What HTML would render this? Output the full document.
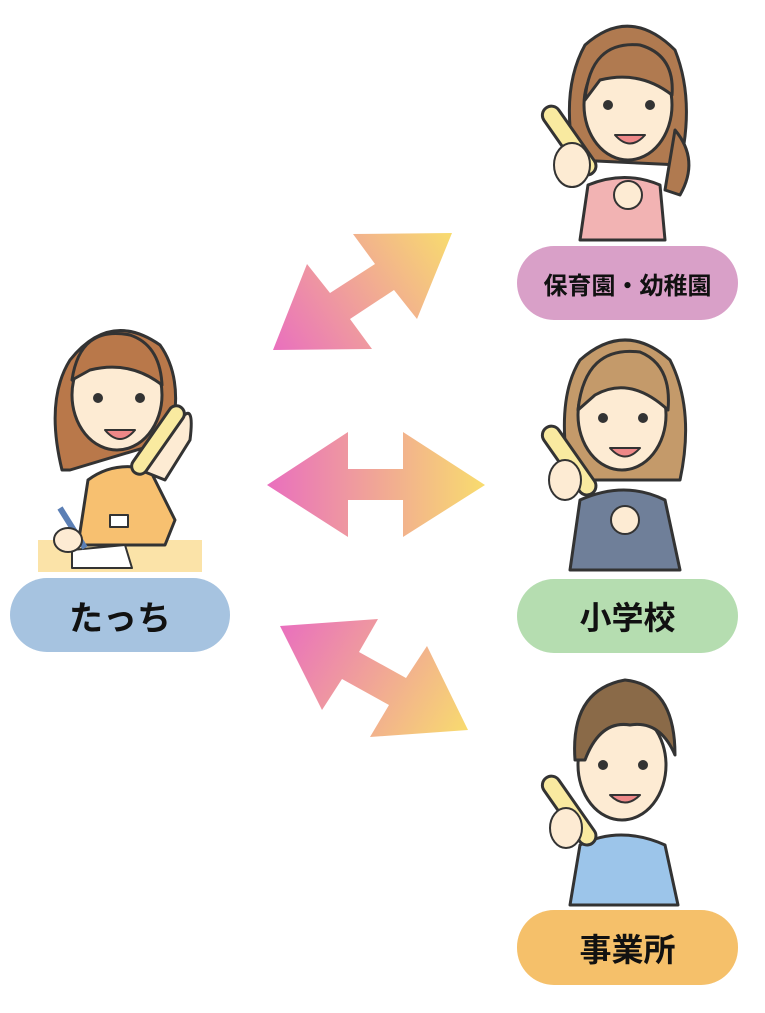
<!DOCTYPE html>
<html><head><meta charset="utf-8"><style>
html,body{margin:0;padding:0;background:#fff;}
body{width:765px;height:1013px;position:relative;overflow:hidden;font-family:"Liberation Sans","Noto Sans CJK JP",sans-serif;}
.pill{position:absolute;border-radius:37px;display:flex;align-items:center;justify-content:center;font-weight:bold;color:#111;}
</style></head><body>
<svg width="765" height="1013" style="position:absolute;left:0;top:0">
<defs>
<linearGradient id="g1" gradientUnits="userSpaceOnUse" x1="273" y1="350" x2="452" y2="233"><stop offset="0" stop-color="#e96fbe"/><stop offset="1" stop-color="#f8dc6e"/></linearGradient>
<linearGradient id="g2" gradientUnits="userSpaceOnUse" x1="267" y1="0" x2="485" y2="0"><stop offset="0" stop-color="#e96fbe"/><stop offset="1" stop-color="#f8dc6e"/></linearGradient>
<linearGradient id="g3" gradientUnits="userSpaceOnUse" x1="280" y1="626" x2="468" y2="735"><stop offset="0" stop-color="#e96fbe"/><stop offset="1" stop-color="#f8dc6e"/></linearGradient>
</defs>
<polygon fill="url(#g1)" points="452,233 417,319 394,290 350,319 372,349 273,350 307,264 330,293 375,264 353,234"/>
<polygon fill="url(#g2)" points="267,485 348,432 348,469 403,469 403,432 485,485 403,537 403,500 348,500 348,537"/>
<polygon fill="url(#g3)" points="280,626 378,619 359,652 406,678 427,646 468,730 370,737 389,705 342,679 322,710"/>

<g stroke="#333" stroke-width="3" stroke-linejoin="round">
<!-- left woman -->
<path d="M62,470 Q45,400 70,360 Q110,310 160,345 Q185,380 170,440 L70,470Z" fill="#b9784a"/>
<rect x="38" y="540" width="164" height="32" fill="#fbe3a8" stroke="none"/>
<path d="M78,545 L88,480 Q115,460 150,470 L175,520 L165,545Z" fill="#f7c070"/>
<ellipse cx="117" cy="395" rx="45" ry="55" fill="#fdebd3"/>
<path d="M72,380 Q80,325 130,335 Q160,345 162,385 Q130,360 90,370Z" fill="#b9784a"/>
<path d="M140,470 L180,420 Q195,400 190,440 L165,480Z" fill="#fdebd3"/>
<rect x="150" y="400" width="16" height="80" rx="8" transform="rotate(35 158 440)" fill="#f9eaa0"/>
<rect x="110" y="515" width="18" height="12" fill="#fff" stroke-width="2"/>
<polygon points="72,550 125,545 132,568 72,568" fill="#fff" stroke-width="2"/>
<line x1="60" y1="508" x2="85" y2="548" stroke="#5b7fb5" stroke-width="6"/>
<ellipse cx="68" cy="540" rx="14" ry="12" fill="#fdebd3" stroke-width="2"/>
<circle cx="98" cy="398" r="3.5" fill="#333"/><circle cx="140" cy="398" r="3.5" fill="#333"/>
<path d="M105,430 Q120,448 135,430Z" fill="#e88" stroke-width="2"/>

<!-- top right woman -->
<path d="M575,160 Q560,90 585,45 Q630,5 675,50 Q695,100 680,165Z" fill="#b07a50"/>
<path d="M675,130 Q700,160 680,195 L665,190Z" fill="#b07a50"/>
<path d="M580,240 L588,185 Q625,170 660,185 L665,240Z" fill="#f2b3b3"/>
<ellipse cx="628" cy="105" rx="44" ry="55" fill="#fdebd3"/>
<path d="M585,100 Q590,40 640,45 Q675,55 672,95 Q640,70 600,80Z" fill="#b07a50"/>
<rect x="560" y="100" width="18" height="80" rx="9" transform="rotate(-35 570 140)" fill="#f9eaa0"/>
<ellipse cx="572" cy="165" rx="18" ry="22" fill="#fdebd3" stroke-width="2"/>
<ellipse cx="628" cy="195" rx="14" ry="14" fill="#fdebd3" stroke-width="2"/>
<circle cx="608" cy="105" r="3.5" fill="#333"/><circle cx="650" cy="105" r="3.5" fill="#333"/>
<path d="M615,135 Q630,152 645,135Z" fill="#e88" stroke-width="2"/>

<!-- middle right woman -->
<path d="M570,480 Q555,400 580,360 Q625,320 670,360 Q695,410 680,480Z" fill="#c49a6a"/>
<path d="M570,570 L580,500 Q625,480 665,500 L680,570Z" fill="#6f7f99"/>
<ellipse cx="622" cy="415" rx="44" ry="55" fill="#fdebd3"/>
<path d="M578,410 Q585,345 640,352 Q672,365 668,410 Q630,375 595,395Z" fill="#c49a6a"/>
<rect x="560" y="420" width="18" height="80" rx="9" transform="rotate(-35 570 460)" fill="#f9eaa0"/>
<ellipse cx="565" cy="480" rx="16" ry="20" fill="#fdebd3" stroke-width="2"/>
<ellipse cx="625" cy="520" rx="14" ry="14" fill="#fdebd3" stroke-width="2"/>
<circle cx="603" cy="418" r="3.5" fill="#333"/><circle cx="643" cy="418" r="3.5" fill="#333"/>
<path d="M610,448 Q625,465 640,448Z" fill="#e88" stroke-width="2"/>

<!-- bottom right man -->
<path d="M570,905 L580,845 Q620,825 665,845 L678,905Z" fill="#9cc5ea"/>
<ellipse cx="622" cy="765" rx="44" ry="55" fill="#fdebd3"/>
<path d="M575,760 Q570,690 625,680 Q675,685 675,755 Q660,720 630,725 Q600,720 585,760Z" fill="#8a6a48"/>
<rect x="560" y="770" width="18" height="80" rx="9" transform="rotate(-35 570 810)" fill="#f9eaa0"/>
<ellipse cx="566" cy="828" rx="16" ry="20" fill="#fdebd3" stroke-width="2"/>
<circle cx="603" cy="765" r="3.5" fill="#333"/><circle cx="643" cy="765" r="3.5" fill="#333"/>
<path d="M610,795 Q625,810 640,795Z" fill="#e88" stroke-width="2"/>
</g>
</svg>
<div class="pill" style="left:10px;top:578px;width:220px;height:74px;background:#a6c3e0;font-size:34px;">たっち</div>
<div class="pill" style="left:517px;top:246px;width:221px;height:74px;background:#d9a0c8;font-size:24px;">保育園・幼稚園</div>
<div class="pill" style="left:517px;top:579px;width:221px;height:74px;background:#b5ddb0;font-size:32px;">小学校</div>
<div class="pill" style="left:517px;top:910px;width:221px;height:75px;background:#f5c06a;font-size:32px;">事業所</div>
</body></html>
